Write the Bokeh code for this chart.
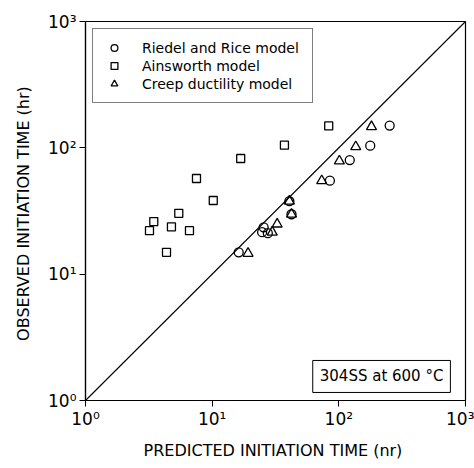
from bokeh.plotting import figure
from bokeh.models import Legend, LegendItem, Label, FixedTicker
from bokeh.embed import file_html
from bokeh.resources import INLINE

# ---- data ----
riedel_pred = [252, 177, 122, 85, 40.7, 42.3, 25.5, 24.8, 27.5, 16.2]
riedel_obs = [150, 104, 80, 55, 37.8, 29.8, 23.5, 21.5, 21.1, 14.9]

ains_pred = [83.2, 37.2, 16.8, 7.52, 10.2, 5.45, 3.46, 3.20, 4.77, 6.62, 4.36]
ains_obs = [149, 105, 82.3, 57.2, 38.3, 30.3, 26.1, 22.1, 23.7, 22.1, 14.9]

creep_pred = [181, 136, 101, 73.3, 40.7, 42.3, 32.6, 29.8, 19.2]
creep_obs = [147, 102, 78.7, 54.9, 37.8, 29.8, 24.9, 21.5, 14.6]

line_x = [1, 1000]
line_y = [1, 1000]

tick_values = [1, 10, 100, 1000]
tick_labels = ["10\u2070", "10\u00b9", "10\u00b2", "10\u00b3"]

series_names = ["Riedel and Rice model", "Ainsworth model", "Creep ductility model"]
note_text = "304SS at 600 \u00b0C"
x_title = "PREDICTED INITIATION TIME  (nr)"
y_title = "OBSERVED INITIATION TIME  (hr)"

FONT = "DejaVu Sans"

p = figure(width=474, height=468, x_axis_type="log", y_axis_type="log",
           x_range=(1, 1000), y_range=(1, 1000),
           output_backend="svg", toolbar_location=None,
           min_border_left=85, min_border_right=9,
           min_border_top=21, min_border_bottom=68)

p.background_fill_color = "white"
p.border_fill_color = "white"
p.outline_line_color = "black"
p.outline_line_width = 1.2
p.grid.visible = False

for ax in (p.xaxis[0], p.yaxis[0]):
    ax.ticker = FixedTicker(ticks=tick_values)
    ax.major_label_overrides = {v: s for v, s in zip(tick_values, tick_labels)}
    ax.minor_tick_line_color = None
    ax.major_tick_in = 0
    ax.major_tick_out = 6
    ax.major_tick_line_color = "black"
    ax.axis_line_color = "black"
    ax.axis_line_width = 1.2
    ax.major_label_text_font = FONT
    ax.major_label_text_font_size = "17px"
    ax.major_label_text_color = "black"
    ax.axis_label_text_font = FONT
    ax.axis_label_text_font_size = "16px"
    ax.axis_label_text_font_style = "normal"
    ax.axis_label_text_color = "black"

p.xaxis.axis_label = x_title
p.yaxis.axis_label = y_title
p.xaxis.major_label_standoff = 2
p.xaxis.axis_label_standoff = 9
p.yaxis.major_label_standoff = 3
p.yaxis.axis_label_standoff = 12

p.line(line_x, line_y, line_color="black", line_width=1.1)

r_c = p.scatter(riedel_pred, riedel_obs, marker="circle", size=9,
                fill_color=None, line_color="black", line_width=1.3)
r_s = p.scatter(ains_pred, ains_obs, marker="square", size=8,
                fill_color=None, line_color="black", line_width=1.3)
r_t = p.scatter(creep_pred, creep_obs, marker="triangle", size=10,
                fill_color=None, line_color="black", line_width=1.3)

legend = Legend(items=[LegendItem(label=series_names[0], renderers=[r_c]),
                       LegendItem(label=series_names[1], renderers=[r_s]),
                       LegendItem(label=series_names[2], renderers=[r_t])],
                location="top_left", margin=7, padding=10, spacing=1,
                glyph_width=22, glyph_height=17, label_height=17,
                label_standoff=17, label_width=160,
                label_text_font=FONT, label_text_font_size="14px",
                label_text_color="black",
                border_line_color="black", border_line_width=1,
                background_fill_color="white", background_fill_alpha=1)
p.add_layout(legend)

note = Label(x=760, y=1.55, x_units="data", y_units="data", text=note_text,
             text_align="right", text_baseline="middle",
             text_font=FONT, text_font_size="15px", text_color="black",
             border_line_color="black", border_line_width=1,
             background_fill_color="white", padding=7)
p.add_layout(note)

open("out.html", "w").write(file_html(p, INLINE))
